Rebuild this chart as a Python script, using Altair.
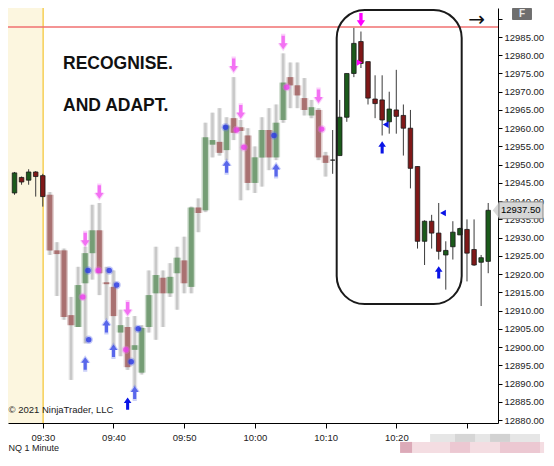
import json
import numpy as np
import pandas as pd
import altair as alt

# ---------------- data (minutes from 09:30, NQ 1 minute) ----------------
minutes = list(range(-4, 64))
opens = [12942.25, 12946.5, 12945.75, 12948.0, 12947.0,
         12941.75, 12926.5, 12926.5, 12908.75, 12905.5, 12917.5, 12925.75, 12932.0, 12917.75, 12916.5,
         12904.0, 12905.5, 12899.25, 12893.0, 12905.5, 12914.75, 12919.0, 12914.75, 12920.25, 12923.75,
         12916.5, 12938.25, 12937.5, 12955.5, 12956.25, 12954.0, 12962.75, 12960.25, 12958.0, 12945.0,
         12952.0, 12959.5, 12952.0, 12962.25, 12974.0, 12971.75, 12968.25, 12963.5, 12965.0, 12952.5,
         12951.25, 12952.5, 12963.0, 12975.0, 12983.75, 12978.25, 12968.0, 12967.75, 12961.75, 12965.0,
         12963.5, 12960.0, 12949.5, 12929.0, 12934.5, 12931.25, 12925.25, 12927.5, 12930.75, 12932.25,
         12926.75, 12923.25, 12923.5]
highs = [12948.0, 12946.75, 12948.75, 12948.25, 12947.5,
         12942.5, 12928.75, 12927.0, 12913.75, 12922.0, 12927.5, 12939.0, 12939.5, 12922.0, 12921.0,
         12910.25, 12908.25, 12908.5, 12906.0, 12921.0, 12927.5, 12921.0, 12923.0, 12927.5, 12930.25,
         12938.5, 12940.75, 12961.5, 12964.25, 12965.5, 12963.0, 12974.0, 12962.25, 12960.0, 12955.0,
         12963.0, 12965.5, 12966.5, 12980.5, 12978.0, 12978.0, 12973.75, 12967.75, 12965.5, 12953.5,
         12959.5, 12967.75, 12975.0, 12987.5, 12986.5, 12978.25, 12974.5, 12974.5, 12970.0, 12976.0,
         12966.5, 12965.0, 12949.5, 12934.75, 12936.25, 12939.5, 12929.0, 12934.5, 12932.75, 12935.0,
         12935.0, 12925.25, 12939.5]
lows = [12941.75, 12944.5, 12944.5, 12941.25, 12938.5,
        12925.25, 12914.0, 12907.5, 12891.0, 12905.5, 12901.0, 12918.5, 12914.25, 12907.5, 12900.0,
        12897.5, 12893.75, 12889.0, 12892.5, 12904.0, 12902.0, 12905.5, 12913.75, 12910.25, 12914.75,
        12914.75, 12931.5, 12937.0, 12952.0, 12952.5, 12951.25, 12956.75, 12940.25, 12943.0, 12942.25,
        12944.0, 12948.5, 12951.25, 12961.5, 12965.5, 12965.5, 12963.5, 12962.75, 12951.25, 12946.75,
        12947.5, 12952.5, 12961.75, 12974.0, 12976.5, 12966.5, 12962.75, 12958.0, 12958.5, 12958.5,
        12952.5, 12943.5, 12927.0, 12922.5, 12927.0, 12924.0, 12915.75, 12924.0, 12930.75, 12918.0,
        12922.25, 12911.25, 12920.25]
closes = [12947.75, 12945.25, 12948.0, 12946.75, 12941.25,
          12926.5, 12925.5, 12908.25, 12906.0, 12917.0, 12925.75, 12932.0, 12920.25, 12917.25, 12908.5,
          12906.0, 12894.5, 12900.5, 12905.25, 12914.25, 12919.75, 12914.75, 12919.25, 12924.5, 12917.5,
          12938.25, 12936.75, 12957.5, 12956.75, 12953.25, 12960.75, 12958.75, 12959.25, 12945.0, 12952.0,
          12959.5, 12952.0, 12961.5, 12972.5, 12971.75, 12969.0, 12965.0, 12965.75, 12952.0, 12950.5,
          12951.25, 12963.0, 12975.0, 12983.25, 12977.75, 12968.25, 12966.75, 12962.25, 12965.25, 12963.25,
          12960.0, 12949.0, 12929.0, 12934.5, 12931.25, 12926.25, 12926.5, 12931.5, 12932.5, 12925.75,
          12922.5, 12924.5, 12937.5]
blur_first, blur_last = 1, 40

# signal markers
pink_arrow_t = [6, 8, 12, 27, 28, 34, 39]
pink_arrow_p = [12929.5, 12942.5, 12910.5, 12977.25, 12964.5, 12983.5, 12968.75]
pink_arrow_sharp_t = [45]
pink_arrow_sharp_p = [12989.75]
blue_arrow_t = [6, 9, 10, 13, 26, 33]
blue_arrow_p = [12895.5, 12905.75, 12899.0, 12887.5, 12949.5, 12948.5]
blue_arrow_sharp_t = [12, 48, 56]
blue_arrow_sharp_p = [12884.5, 12954.75, 12920.5]
blue_dot_t = [6.4, 6.5, 9.4, 10.45, 12.5, 13.5, 25.85, 32.7]
blue_dot_p = [12921.0, 12902.0, 12921.0, 12917.0, 12896.0, 12905.0, 12960.25, 12958.0]
pink_dot_t = [5.65, 7.85, 11.75, 27.4, 28.45, 34.5, 39.45]
pink_dot_p = [12913.75, 12921.0, 12899.25, 12959.5, 12954.75, 12971.25, 12959.75]
blue_tri_t = [48.5, 56.6]
blue_tri_p = [12961.0, 12936.75]
pink_tri_t = [44.8]
pink_tri_p = [12978.0]

# axes
X_MIN, X_MAX = -4.92, 64.385
Y_MIN, Y_MAX = 12879.19, 12992.95
x_tick_values = [0, 10, 20, 30, 40, 50, 60]
x_tick_labels = ["09:30", "09:40", "09:50", "10:00", "10:10", "10:20", ""]
y_tick_values = [12880 + 5 * i for i in range(23)]

# annotations
session_open_t = 0.05
resistance_price = 12987.75
box_t = [41.57, 59.25]
box_p = [12911.8, 12992.4]
last_price = closes[-1]

# ---------------- frames ----------------
df = pd.DataFrame({"t": minutes, "open": opens, "high": highs, "low": lows, "close": closes})
direction = np.where(df.close > df.open, "up", np.where(df.close < df.open, "down", "flat"))
df["dir_blur"] = direction
df["dir_sharp"] = direction
blur = df[(df.t >= blur_first) & (df.t <= blur_last)]
sharp = df[(df.t < blur_first) | (df.t > blur_last)]

xs = alt.Scale(domain=[X_MIN, X_MAX], nice=False, zero=False, padding=0)
ys = alt.Scale(domain=[Y_MIN, Y_MAX], nice=False, zero=False, padding=0)
xaxis = alt.Axis(values=x_tick_values, labelExpr=json.dumps(x_tick_labels) + "[round(datum.value/10)]",
                 title=None, grid=False, domainColor="#000", tickColor="#000", tickSize=5,
                 labelFont="Liberation Sans", labelFontSize=9.5, labelColor="#222", labelPadding=4)
yaxis = alt.Axis(orient="right", values=y_tick_values,
                 labelExpr="datum.value > 12987 ? '' : format(datum.value, '.2f')",
                 title=None, grid=False, domainColor="#000", tickColor="#000", tickSize=4,
                 labelFont="Liberation Sans", labelFontSize=9.5, labelColor="#222", labelPadding=2)


def X(f):
    return alt.X(f, type="quantitative", scale=xs, axis=xaxis)


def Y(f):
    return alt.Y(f, type="quantitative", scale=ys, axis=yaxis)


def pts(ts, ps):
    return pd.DataFrame({"t": ts, "p": ps})


DOWN = "M-0.25,-1L0.25,-1L0.25,0.1L0.62,0.1L0,1L-0.62,0.1L-0.25,0.1Z"
UP = "M-0.25,1L0.25,1L0.25,-0.1L0.62,-0.1L0,-1L-0.62,-0.1L-0.25,-0.1Z"

one = pd.DataFrame({"a": [0]})

shade = alt.Chart(one).mark_rect(color="#fcf6df").encode(
    x=alt.datum(X_MIN, type="quantitative", scale=xs, axis=xaxis), x2=alt.datum(session_open_t),
    y=alt.datum(Y_MIN, type="quantitative", scale=ys, axis=yaxis), y2=alt.datum(Y_MAX))
open_line = alt.Chart(one).mark_rule(color="#f6cf55", strokeWidth=1.5).encode(
    x=alt.datum(session_open_t, type="quantitative", scale=xs, axis=xaxis))
res_line = alt.Chart(one).mark_rule(color="#f07070", strokeWidth=1.5).encode(
    y=alt.datum(resistance_price, type="quantitative", scale=ys, axis=yaxis))

blur_col = alt.Color("dir_blur:N", scale=alt.Scale(domain=["up", "down", "flat"],
                                                   range=["#6f9a6f", "#a66a6a", "#888888"]), legend=None)
sharp_col = alt.Color("dir_sharp:N", scale=alt.Scale(domain=["up", "down", "flat"],
                                                     range=["#1b5a1b", "#801818", "#111111"]), legend=None)

bw_glow = alt.Chart(blur).mark_rule(color="#d8d8d8", strokeWidth=5, opacity=0.6).encode(
    x=X("t"), y=Y("low"), y2="high")
bw_core = alt.Chart(blur).mark_rule(color="#c4c4c4", strokeWidth=2.5, opacity=0.9).encode(
    x=X("t"), y=Y("low"), y2="high")
bb_glow = alt.Chart(blur).mark_bar(size=8, opacity=0.35).encode(
    x=X("t"), y=Y("open"), y2="close", color=blur_col)
bb_core = alt.Chart(blur).mark_bar(size=5, opacity=0.9).encode(
    x=X("t"), y=Y("open"), y2="close", color=blur_col)

sw = alt.Chart(sharp).mark_rule(color="#3a3a3a", strokeWidth=1).encode(
    x=X("t"), y=Y("low"), y2="high")
sb = alt.Chart(sharp).mark_bar(size=4.5, stroke="#1a1a1a", strokeWidth=0.8).encode(
    x=X("t"), y=Y("open"), y2="close", color=sharp_col)


def marker(ts, ps, shape, size, color, opacity=1.0):
    return alt.Chart(pts(ts, ps)).mark_point(shape=shape, filled=True, size=size, color=color,
                                             opacity=opacity, strokeWidth=0).encode(x=X("t"), y=Y("p"))


markers = [
    marker(pink_arrow_t, pink_arrow_p, DOWN, 300, "#f07cf0", 0.35),
    marker(pink_arrow_t, pink_arrow_p, DOWN, 180, "#f050f0", 0.75),
    marker(blue_arrow_t, blue_arrow_p, UP, 280, "#6a78ee", 0.35),
    marker(blue_arrow_t, blue_arrow_p, UP, 160, "#3344e6", 0.75),
    marker(blue_dot_t, blue_dot_p, "circle", 70, "#5866ec", 0.35),
    marker(blue_dot_t, blue_dot_p, "circle", 30, "#2a3ae4", 0.8),
    marker(pink_dot_t, pink_dot_p, "circle", 70, "#f070f0", 0.35),
    marker(pink_dot_t, pink_dot_p, "circle", 30, "#ec3cec", 0.8),
    marker(pink_arrow_sharp_t, pink_arrow_sharp_p, DOWN, 180, "#ff00ff"),
    marker(blue_arrow_sharp_t, blue_arrow_sharp_p, UP, 150, "#0a14e6"),
    marker(blue_tri_t, blue_tri_p, "triangle-left", 45, "#0a14e6"),
    marker(pink_tri_t, pink_tri_p, "triangle-right", 40, "#ff00ff"),
]

box = alt.Chart(one).mark_rect(cornerRadius=28, fillOpacity=0, stroke="#1a1a1a", strokeWidth=2).encode(
    x=alt.datum(box_t[0], type="quantitative", scale=xs, axis=xaxis), x2=alt.datum(box_t[1]),
    y=alt.datum(box_p[0], type="quantitative", scale=ys, axis=yaxis), y2=alt.datum(box_p[1]))

texts = pd.DataFrame({
    "t": [2.86, 2.86, -4.85, -4.85, 61.35],
    "p": [12977.7, 12966.2, 12882.75, 12872.4, 12989.66],
    "s": ["RECOGNISE.", "AND ADAPT.", "© 2021 NinjaTrader, LLC", "NQ 1 Minute", "→"],
    "kind": ["big", "big", "small", "tiny", "arrow"],
})
big_t = alt.Chart(texts[texts.kind == "big"]).mark_text(
    align="left", baseline="middle", font="Liberation Sans", fontSize=17.5, fontWeight="bold",
    color="#111").encode(x=X("t"), y=Y("p"), text="s")
small_t = alt.Chart(texts[texts.kind == "small"]).mark_text(
    align="left", baseline="middle", font="Liberation Sans", fontSize=9.5, color="#222").encode(
    x=X("t"), y=Y("p"), text="s")
tiny_t = alt.Chart(texts[texts.kind == "tiny"]).mark_text(
    align="left", baseline="middle", font="Liberation Sans", fontSize=9, color="#222").encode(
    x=X("t"), y=Y("p"), text="s")
arrow_t = alt.Chart(texts[texts.kind == "arrow"]).mark_text(
    align="center", baseline="middle", font="DejaVu Sans", fontSize=20, color="#111").encode(
    x=X("t"), y=Y("p"), text="s")

# last price label on the axis
lab_box = alt.Chart(one).mark_rect(color="#d6d6d6", stroke="#8a8a8a", strokeWidth=1).encode(
    x=alt.datum(64.53, type="quantitative", scale=xs, axis=xaxis), x2=alt.datum(70.75),
    y=alt.datum(last_price - 2.3, type="quantitative", scale=ys, axis=yaxis), y2=alt.datum(last_price + 2.3))
lab_tip = alt.Chart(pts([64.1], [last_price])).mark_point(
    shape="M-0.4,0L0.4,-1L0.4,1Z", filled=True, size=256, color="#c8c8c8", strokeWidth=0).encode(
    x=X("t"), y=Y("p"))
lab_txt = alt.Chart(pd.DataFrame({"t": [67.6], "p": [last_price], "s": [f"{last_price:.2f}"]})).mark_text(
    font="Liberation Sans", fontSize=9.5, color="#000").encode(x=X("t"), y=Y("p"), text="s")

# "F" button
f_btn = alt.Chart(one).mark_rect(color="#6e6e6e", cornerRadius=1).encode(
    x=alt.datum(66.37, type="quantitative", scale=xs, axis=xaxis), x2=alt.datum(69.19),
    y=alt.datum(12989.66, type="quantitative", scale=ys, axis=yaxis), y2=alt.datum(Y_MAX))
f_txt = alt.Chart(pd.DataFrame({"t": [67.78], "p": [12991.3], "s": ["F"]})).mark_text(
    font="Liberation Sans", fontSize=10, fontWeight="bold", color="#e8e8e8").encode(
    x=X("t"), y=Y("p"), text="s")

# pixelated watermark patch under the axis
patch = pd.DataFrame({
    "t0": [54.78, 58.3, 63.26, 50.54, 50.54, 57.6, 64.67],
    "t1": [70.33, 61.14, 66.09, 70.9, 52.23, 60.43, 70.33],
    "p0": [12874.0, 12874.0, 12874.0, 12871.0, 12871.0, 12871.0, 12871.0],
    "p1": [12876.2, 12876.2, 12876.2, 12874.0, 12874.0, 12874.0, 12874.0],
    "c": ["#e6e6e6", "#d6d6d6", "#d2d2d2", "#f4dde2", "#dcaab8", "#ecc8d2", "#ecc8d2"],
})
patch_l = alt.Chart(patch).mark_rect().encode(
    x=X("t0"), x2="t1", y=Y("p0"), y2="p1", color=alt.Color("c:N", scale=None))

chart = alt.layer(
    shade, open_line, res_line, bw_glow, bw_core, bb_glow, bb_core, sw, sb, *markers,
    box, big_t, small_t, tiny_t, arrow_t, lab_box, lab_tip, lab_txt, f_btn, f_txt, patch_l,
).resolve_scale(color="independent").properties(
    width=490, height=415, background="white", autosize=alt.AutoSizeParams(type="none"),
    padding={"left": 0, "top": 0, "right": 47, "bottom": 30},
).configure_view(stroke=None)

chart.save("out.html", embed_options={"renderer": "svg", "actions": False})
